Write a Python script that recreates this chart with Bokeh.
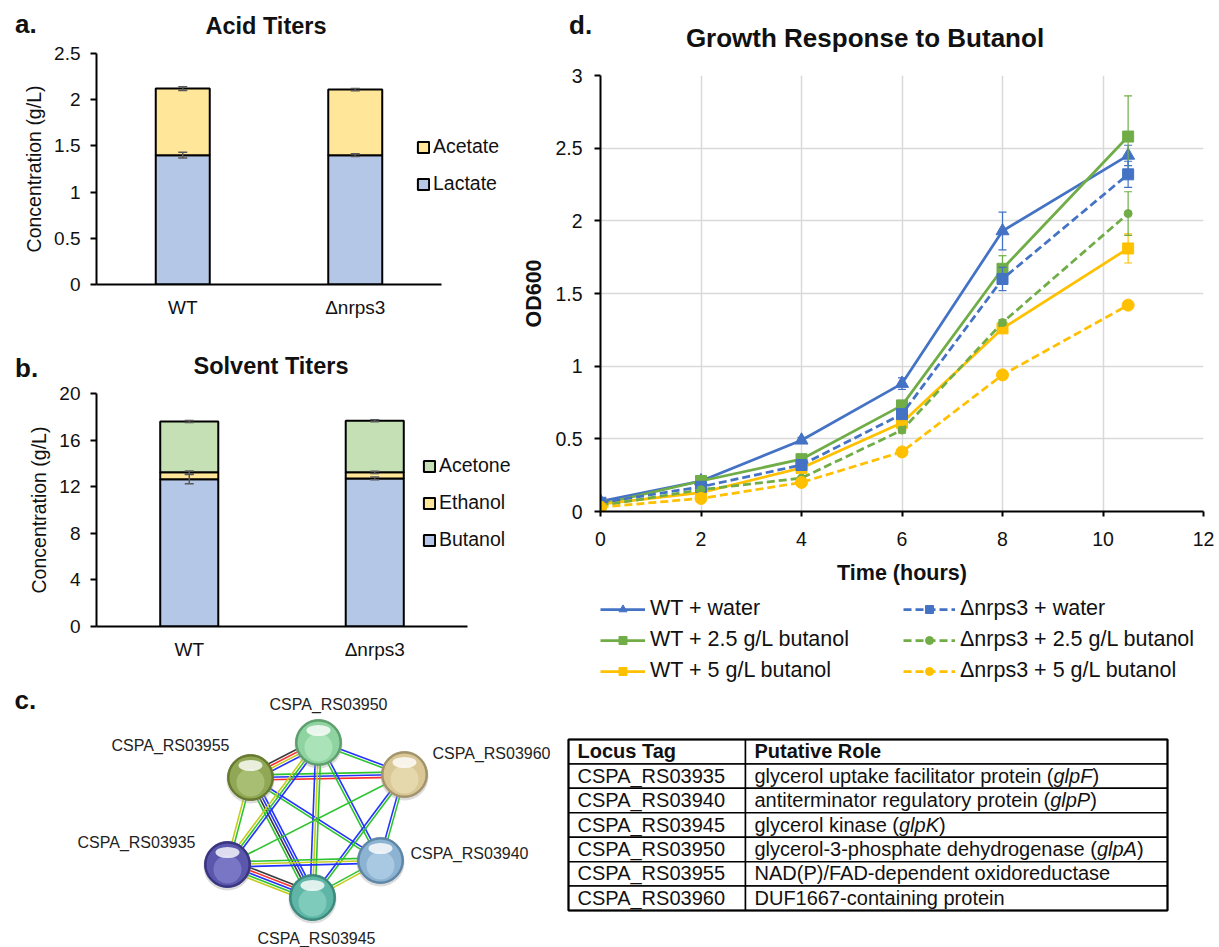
import math
from bokeh.plotting import figure
from bokeh.layouts import column, row
from bokeh.models import (ColumnDataSource, Range1d, FixedTicker, Div,
                          CustomJSTickFormatter, Legend, LegendItem)
from bokeh.core.properties import value
from bokeh.embed import file_html
from bokeh.resources import INLINE

FONT = "Liberation Sans"

# ---------------- data: panel a (acid titers, g/L) ----------------
strains = ["WT", "Δnrps3"]
lactate = [1.40, 1.40]
lactate_err = [0.030, 0.015]
acetate = [0.72, 0.71]
acetate_err = [0.020, 0.012]

# ---------------- data: panel b (solvent titers, g/L) ----------------
butanol = [12.65, 12.71]
butanol_err = [0.40, 0.12]
ethanol = [0.58, 0.52]
ethanol_err = [0.12, 0.10]
acetone = [4.37, 4.43]
acetone_err = [0.08, 0.08]

# ---------------- data: panel d (OD600 vs time) ----------------
time_h = [0, 2, 4, 6, 8, 10.5]
wt_water = [0.07, 0.21, 0.49, 0.88, 1.93, 2.45]
wt_water_err = [0.01, 0.01, 0.02, 0.04, 0.13, 0.07]
wt_bu25 = [0.05, 0.21, 0.36, 0.73, 1.67, 2.58]
wt_bu25_err = [0.01, 0.01, 0.01, 0.02, 0.09, 0.28]
wt_bu5 = [0.05, 0.13, 0.30, 0.61, 1.26, 1.81]
wt_bu5_err = [0.01, 0.01, 0.01, 0.02, 0.03, 0.10]
ko_water = [0.06, 0.17, 0.32, 0.67, 1.60, 2.32]
ko_water_err = [0.01, 0.01, 0.01, 0.02, 0.08, 0.09]
ko_bu25 = [0.04, 0.15, 0.23, 0.56, 1.30, 2.05]
ko_bu25_err = [0.01, 0.01, 0.01, 0.02, 0.02, 0.15]
ko_bu5 = [0.03, 0.09, 0.20, 0.41, 0.94, 1.42]
ko_bu5_err = [0.01, 0.01, 0.01, 0.02, 0.02, 0.03]
growth_labels = ["WT + water", "WT + 2.5 g/L butanol", "WT + 5 g/L butanol",
                 "Δnrps3 + water", "Δnrps3 + 2.5 g/L butanol", "Δnrps3 + 5 g/L butanol"]

# ---------------- data: panel c (network + table) ----------------
node_names = ["CSPA_RS03950", "CSPA_RS03955", "CSPA_RS03960",
              "CSPA_RS03935", "CSPA_RS03940", "CSPA_RS03945"]
node_x = [318, 250, 404, 227, 380, 312]
node_y = [742, 777, 774, 864, 860, 897]
# edge evidence colours: k=black, r=red, y=yellow, b=blue, g=green
edges = [("CSPA_RS03955", "CSPA_RS03950", "kryb"),
         ("CSPA_RS03950", "CSPA_RS03960", "bg"),
         ("CSPA_RS03955", "CSPA_RS03960", "gbr"),
         ("CSPA_RS03955", "CSPA_RS03935", "gy"),
         ("CSPA_RS03955", "CSPA_RS03945", "bbkg"),
         ("CSPA_RS03955", "CSPA_RS03940", "bg"),
         ("CSPA_RS03950", "CSPA_RS03935", "bgy"),
         ("CSPA_RS03950", "CSPA_RS03945", "gyb"),
         ("CSPA_RS03950", "CSPA_RS03940", "bg"),
         ("CSPA_RS03960", "CSPA_RS03935", "g"),
         ("CSPA_RS03960", "CSPA_RS03945", "gb"),
         ("CSPA_RS03960", "CSPA_RS03940", "gb"),
         ("CSPA_RS03935", "CSPA_RS03940", "gyb"),
         ("CSPA_RS03935", "CSPA_RS03945", "krbgy"),
         ("CSPA_RS03940", "CSPA_RS03945", "yg")]
table_header = ["Locus Tag", "Putative Role"]
locus_tags = ["CSPA_RS03935", "CSPA_RS03940", "CSPA_RS03945",
              "CSPA_RS03950", "CSPA_RS03955", "CSPA_RS03960"]
role_prefix = ["glycerol uptake facilitator protein (", "antiterminator regulatory protein (",
               "glycerol kinase (", "glycerol-3-phosphate dehydrogenase (",
               "NAD(P)/FAD-dependent  oxidoreductase", "DUF1667-containing protein"]
role_gene = ["glpF", "glpP", "glpK", "glpA", "", ""]
role_suffix = [")", ")", ")", ")", "", ""]

# ---------------- helpers ----------------
FMT = CustomJSTickFormatter(code="return Number(tick.toFixed(2)).toString();")
INK = "#111111"

ARIAL_W = {' ': 278, '(': 333, ')': 333, '-': 333, '/': 278, '_': 556, '.': 278,
           'a': 556, 'b': 556, 'c': 500, 'd': 556, 'e': 556, 'f': 278, 'g': 556, 'h': 556,
           'i': 222, 'j': 222, 'k': 500, 'l': 222, 'm': 833, 'n': 556, 'o': 556, 'p': 556,
           'q': 556, 'r': 333, 's': 500, 't': 278, 'u': 556, 'v': 500, 'w': 722, 'x': 500,
           'y': 500, 'z': 500, 'A': 667, 'D': 722, 'F': 611, 'N': 722, 'P': 667, 'U': 722,
           'K': 667}


def text_width(s, px):
    return sum(ARIAL_W.get(ch, 556) for ch in s) / 1000.0 * px


def text_div(w, h, items):
    """items: (x, baseline_y, text, font_px, centered)"""
    spans = []
    for x, base, txt, fs, centered in items:
        top = base - 0.8465 * fs
        tr = "transform:translateX(-50%);" if centered else ""
        spans.append(
            f'<span style="position:absolute;left:{x}px;top:{top:.1f}px;'
            f"font-family:'{FONT}';font-size:{fs}px;font-weight:bold;line-height:1;"
            f'white-space:nowrap;color:{INK};{tr}">{txt}</span>')
    html = (f'<div style="position:relative;width:{w}px;height:{h}px;overflow:visible;">'
            + "".join(spans) + "</div>")
    return Div(text=html, width=w, height=h, margin=0)


def style_axes(p, tick_px):
    for ax in (p.xaxis[0], p.yaxis[0]):
        ax.axis_line_color = "black"
        ax.axis_line_width = 2
        ax.major_label_text_font = FONT
        ax.major_label_text_font_size = tick_px
        ax.major_label_text_color = INK
        ax.minor_tick_line_color = None
        ax.major_tick_in = 0
        ax.axis_label_text_font = FONT
        ax.axis_label_text_color = INK
    p.outline_line_color = None


def bar_panel(h, bt, bb, cat_px, ymax, yticks, layers, errs, colors, names, legend_xy):
    frame_w = 515 - 96
    p = figure(width=515, height=h, x_range=Range1d(0, frame_w / cat_px),
               y_range=Range1d(0, ymax), min_border_left=96, min_border_right=0,
               min_border_top=bt, min_border_bottom=bb,
               output_backend="svg", toolbar_location=None)
    p.grid.visible = False
    style_axes(p, "19px")
    p.yaxis.ticker = FixedTicker(ticks=yticks)
    p.yaxis.formatter = FMT
    p.yaxis.major_tick_out = 6
    p.yaxis.major_tick_line_width = 2
    p.yaxis.major_label_standoff = 10
    p.yaxis.axis_label = "Concentration (g/L)"
    p.yaxis.axis_label_text_font_size = "19.5px"
    p.yaxis.axis_label_text_font_style = "normal"
    p.yaxis.axis_label_standoff = 6
    xpos = [i + 0.5 for i in range(len(strains))]
    p.xaxis.ticker = FixedTicker(ticks=xpos)
    p.xaxis.major_label_overrides = {x: s for x, s in zip(xpos, strains)}
    p.xaxis.bounds = (0, len(strains))
    p.xaxis.major_tick_out = 0
    p.xaxis.major_tick_line_color = None
    p.xaxis.major_label_standoff = 12

    bottoms = [0.0] * len(strains)
    rends, err_rows = [], []
    for vals, er, col in zip(layers, errs, colors):
        tops = [b + v for b, v in zip(bottoms, vals)]
        src = ColumnDataSource(dict(x=xpos, bottom=bottoms, top=tops))
        r = p.vbar(x="x", bottom="bottom", top="top", width=0.313, source=src,
                   fill_color=col, line_color="black", line_width=2)
        rends.append(r)
        err_rows.append((tops, er))
        bottoms = tops
    for tops, er in err_rows:
        es = ColumnDataSource(dict(x=xpos, lo=[t - e for t, e in zip(tops, er)],
                                   hi=[t + e for t, e in zip(tops, er)]))
        p.segment(x0="x", y0="lo", x1="x", y1="hi", source=es, line_color="#595959", line_width=1.5)
        p.scatter(x="x", y="lo", source=es, marker="dash", size=9, line_color="#595959", line_width=1.5)
        p.scatter(x="x", y="hi", source=es, marker="dash", size=9, line_color="#595959", line_width=1.5)

    items = [LegendItem(label=n, renderers=[r]) for n, r in zip(names, rends)][::-1]
    leg = Legend(items=items, location=legend_xy, glyph_width=14, glyph_height=14,
                 label_height=23, spacing=14, label_standoff=3, padding=0, margin=0,
                 border_line_color=None, background_fill_alpha=0,
                 label_text_font=FONT, label_text_font_size="19.5px", label_text_color=INK)
    p.add_layout(leg)
    return p


# ---------------- panel a ----------------
da = text_div(515, 42, [(15, 33, "a.", 26, False), (266, 35, "Acid Titers", 23.5, True)])
pa = bar_panel(278, 11, 34, 172.5, 2.5, [0, 0.5, 1, 1.5, 2, 2.5],
               [lactate, acetate], [lactate_err, acetate_err],
               ["#b4c7e7", "#ffe699"], ["Lactate", "Acetate"], (320, 89))

# ---------------- panel b ----------------
db = text_div(515, 62, [(15, 57, "b.", 26, False), (271, 55, "Solvent Titers", 23.5, True)])
pb = bar_panel(301, 11, 57, 185.5, 20, [0, 4, 8, 12, 16, 20],
               [butanol, ethanol, acetone], [butanol_err, ethanol_err, acetone_err],
               ["#b4c7e7", "#ffe699", "#c5e0b4"], ["Butanol", "Ethanol", "Acetone"], (326, 75))

# ---------------- panel d ----------------
dd = text_div(704, 55, [(54, 34, "d.", 26, False),
                        (350, 46.5, "Growth Response to Butanol", 26, True)])

pd = figure(width=704, height=536, x_range=Range1d(0, 12), y_range=Range1d(0, 3),
            min_border_left=85, min_border_right=16, min_border_top=20, min_border_bottom=80,
            output_backend="svg", toolbar_location=None)
style_axes(pd, "19.5px")
pd.xaxis.ticker = FixedTicker(ticks=[0, 2, 4, 6, 8, 10, 12])
pd.yaxis.ticker = FixedTicker(ticks=[0, 0.5, 1, 1.5, 2, 2.5, 3])
pd.xaxis.formatter = FMT
pd.yaxis.formatter = FMT
pd.xaxis.major_tick_out = 5
pd.yaxis.major_tick_out = 6
pd.xaxis.major_tick_line_width = 2
pd.yaxis.major_tick_line_width = 2
pd.xaxis.major_label_standoff = 15
pd.yaxis.major_label_standoff = 12
pd.xgrid.grid_line_color = "#d9d9d9"
pd.ygrid.grid_line_color = "#d9d9d9"
pd.xgrid.grid_line_width = 1.5
pd.ygrid.grid_line_width = 1.5
pd.xaxis.axis_label = "Time (hours)"
pd.yaxis.axis_label = "OD600"
for ax in (pd.xaxis[0], pd.yaxis[0]):
    ax.axis_label_text_font_size = "21.5px"
    ax.axis_label_text_font_style = "bold"
pd.xaxis.axis_label_standoff = 12
pd.yaxis.axis_label_standoff = 6

BLUE, GREEN, YELLOW = "#4472c4", "#70ad47", "#ffc000"
series = [
    (wt_water, wt_water_err, BLUE, "solid", "triangle", 13),
    (wt_bu25, wt_bu25_err, GREEN, "solid", "square", 11),
    (wt_bu5, wt_bu5_err, YELLOW, "solid", "square", 11),
    (ko_water, ko_water_err, BLUE, "8 4", "square", 11),
    (ko_bu25, ko_bu25_err, GREEN, "8 4", "circle", 8),
    (ko_bu5, ko_bu5_err, YELLOW, "8 4", "circle", 12),
]
for vals, er, col, dash, mk, sz in series:
    src = ColumnDataSource(dict(x=time_h, y=vals,
                                lo=[v - e for v, e in zip(vals, er)],
                                hi=[v + e for v, e in zip(vals, er)]))
    pd.segment(x0="x", y0="lo", x1="x", y1="hi", source=src, line_color=col, line_width=1.2)
    pd.scatter(x="x", y="lo", source=src, marker="dash", size=8, line_color=col, line_width=1.2)
    pd.scatter(x="x", y="hi", source=src, marker="dash", size=8, line_color=col, line_width=1.2)
    pd.line(x="x", y="y", source=src, line_color=col, line_width=2.75, line_dash=dash)
    pd.scatter(x="x", y="y", source=src, marker=mk, size=sz, fill_color=col, line_color=col)

# legend strip for panel d: legend swatches use the same styles as the series
ld = figure(width=704, height=92, x_range=Range1d(0, 1), y_range=Range1d(0, 1),
            x_axis_location=None, y_axis_location=None, min_border=0,
            output_backend="svg", toolbar_location=None)
ld.grid.visible = False
ld.outline_line_color = None
legend_items = []
for (vals, er, col, dash, mk, sz), lab in zip(series, growth_labels):
    rl = ld.line(x=[-5, -4], y=[-5, -4], line_color=col, line_width=2.75, line_dash=dash)
    rm = ld.scatter(x=[-5], y=[-5], marker=mk, size=sz, fill_color=col, line_color=col)
    legend_items.append(LegendItem(label=lab, renderers=[rl, rm]))
for items, loc, gw in ((legend_items[:3], (0, 0), 45), (legend_items[3:], (303, 0), 52)):
    lg = Legend(items=items, location=loc, glyph_width=gw, glyph_height=20,
                label_height=25, spacing=6, label_standoff=5, padding=0, margin=0,
                border_line_color=None, background_fill_alpha=0,
                label_text_font=FONT, label_text_font_size="21.5px", label_text_color=INK)
    ld.add_layout(lg)

# ---------------- panel c ----------------
pc = figure(width=1219, height=264, x_range=Range1d(0, 1219), y_range=Range1d(947, 683),
            x_axis_location=None, y_axis_location=None, min_border=0,
            output_backend="svg", toolbar_location=None)
pc.grid.visible = False
pc.outline_line_color = None

pc.text(x=[14], y=[699], text=["c."], text_font=value(FONT), text_font_size="26px",
        text_font_style="bold", text_baseline="middle", text_color=INK)

EDGE_COL = {"k": "#3a3a3a", "r": "#ff2a2a", "y": "#c4cc1e", "b": "#2233ff", "g": "#2fc42f"}
pos = {n: (x, y) for n, x, y in zip(node_names, node_x, node_y)}
ex0, ey0, ex1, ey1, ecol = [], [], [], [], []
for a, b, cols in edges:
    (x1, y1), (x2, y2) = pos[a], pos[b]
    dx, dy = x2 - x1, y2 - y1
    L = math.hypot(dx, dy)
    px_, py_ = -dy / L, dx / L
    n = len(cols)
    for k, c in enumerate(cols):
        off = (k - (n - 1) / 2.0) * 2.6
        ex0.append(x1 + px_ * off); ey0.append(y1 + py_ * off)
        ex1.append(x2 + px_ * off); ey1.append(y2 + py_ * off)
        ecol.append(EDGE_COL[c])
pc.segment(x0=ex0, y0=ey0, x1=ex1, y1=ey1, line_color=ecol, line_width=1.6)

node_dark = ["#5c9f6c", "#66792f", "#a2936a", "#38347f", "#5f86a6", "#3b8a7c"]
node_base = ["#8fd3a0", "#90a856", "#d9c796", "#5b57ad", "#8db3d2", "#5fb6a6"]
node_light = ["#bdeec6", "#b9cd86", "#efe2bd", "#8e8ad6", "#bcd7ec", "#93d8ca"]
pc.scatter(x=node_x, y=[v + 2 for v in node_y], size=48, fill_color="#9a9a9a",
           fill_alpha=0.35, line_color=None)
pc.scatter(x=node_x, y=node_y, size=46, fill_color=node_dark, line_color=node_dark)
pc.scatter(x=node_x, y=node_y, size=42, fill_color=node_base, line_color=None)
pc.scatter(x=node_x, y=[v + 5 for v in node_y], size=28, fill_color=node_light,
           fill_alpha=0.6, line_color=None)
pc.ellipse(x=node_x, y=[v - 12 for v in node_y], width=24, height=11,
           fill_color="white", fill_alpha=0.8, line_color=None)

lab_x = [328, 170, 491, 136, 469, 316]
lab_y = [704, 745, 753, 842, 853, 938]
pc.text(x=lab_x, y=lab_y, text=node_names, text_font=value(FONT), text_font_size="16px",
        text_align="center", text_baseline="middle", text_color="#222222")

# table
T_LEFT, T_MID, T_RIGHT, T_TOP, ROW_H, PAD = 568, 745, 1167, 739, 24.43, 9
n_rows = len(locus_tags) + 1
tops = [T_TOP + i * ROW_H for i in range(n_rows)]
bots = [t + ROW_H for t in tops]
pc.quad(left=[T_LEFT] * n_rows, right=[T_MID] * n_rows, top=tops, bottom=bots,
        fill_color="white", line_color="black", line_width=1.5)
pc.quad(left=[T_MID] * n_rows, right=[T_RIGHT] * n_rows, top=tops, bottom=bots,
        fill_color="white", line_color="black", line_width=1.5)
pc.quad(left=[T_LEFT], right=[T_RIGHT], top=[T_TOP], bottom=[bots[-1]],
        fill_color=None, line_color="black", line_width=2)
TFS = 20
mids = [t + ROW_H / 2 - 0.5 for t in tops]
pc.text(x=[T_LEFT + PAD, T_MID + PAD], y=[mids[0]] * 2, text=table_header, text_font=value(FONT),
        text_font_size=f"{TFS}px", text_font_style="bold", text_baseline="middle", text_color=INK)
pc.text(x=[T_LEFT + PAD] * len(locus_tags), y=mids[1:], text=locus_tags, text_font=value(FONT),
        text_font_size=f"{TFS}px", text_baseline="middle", text_color=INK)
pc.text(x=[T_MID + PAD] * len(role_prefix), y=mids[1:], text=role_prefix, text_font=value(FONT),
        text_font_size=f"{TFS}px", text_baseline="middle", text_color=INK)
gx = [T_MID + PAD + text_width(s, TFS) for s in role_prefix]
pc.text(x=gx, y=mids[1:], text=role_gene, text_font=value(FONT), text_font_size=f"{TFS}px",
        text_font_style="italic", text_baseline="middle", text_color=INK)
sx = [g + text_width(s, TFS) for g, s in zip(gx, role_gene)]
pc.text(x=sx, y=mids[1:], text=role_suffix, text_font=value(FONT), text_font_size=f"{TFS}px",
        text_baseline="middle", text_color=INK)

left_col = column(da, pa, db, pb)
right_col = column(dd, pd, ld)
layout = column(row(left_col, right_col), pc)
open("out.html", "w").write(file_html(layout, INLINE))
